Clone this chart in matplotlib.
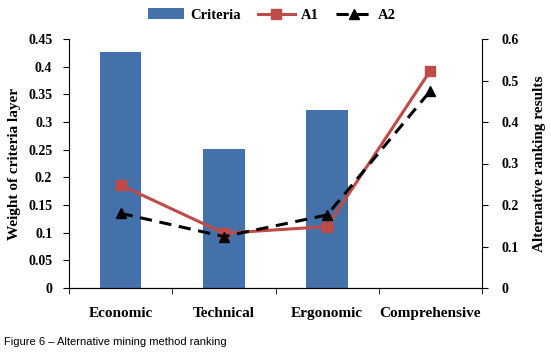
import matplotlib
matplotlib.use("Agg")
import matplotlib.pyplot as plt
import numpy as np

categories = ["Economic", "Technical", "Ergonomic", "Comprehensive"]
criteria = [0.427, 0.251, 0.322]
a1 = [0.248, 0.132, 0.148, 0.524]
a2 = [0.180, 0.124, 0.176, 0.475]
left_ticks = [0, 0.05, 0.1, 0.15, 0.2, 0.25, 0.3, 0.35, 0.4, 0.45]
right_ticks = [0, 0.1, 0.2, 0.3, 0.4, 0.5, 0.6]

serif = "Liberation Serif"
fig = plt.figure(figsize=(5.51, 3.55), dpi=100)
ax = fig.add_axes([69/551, 1-288/355, (482-69)/551, (288-39)/355])
ax2 = ax.twinx()

x = np.arange(len(categories))
bars = ax.bar(x[:len(criteria)], criteria, width=0.4, color="#4571AA", label="Criteria", zorder=1)
l1, = ax2.plot(x, a1, color="#BE4B48", lw=2.2, marker="s", ms=7, label="A1")
l2, = ax2.plot(x, a2, color="black", lw=2.2, ls=(0, (4, 2.5)), marker="^", ms=7, label="A2")

ax.set_xlim(-0.5, 3.5)
ax.set_ylim(0, 0.45)
ax2.set_ylim(0, 0.6)
ax.set_yticks(left_ticks)
ax.set_yticklabels([f"{v:g}" for v in left_ticks])
ax2.set_yticks(right_ticks)
ax2.set_yticklabels([f"{v:g}" for v in right_ticks])
ax.set_xticks(x)
ax.set_xticklabels(categories)
ax.set_xticks(np.arange(-0.5, 4, 1), minor=True)
ax.tick_params(axis="x", which="major", length=0, pad=14)
ax.tick_params(axis="x", which="minor", length=4, direction="out")
ax.tick_params(axis="y", length=4, direction="out", pad=8)
ax2.tick_params(axis="y", length=4, direction="out", pad=10)

for a in (ax, ax2):
    a.spines["top"].set_visible(False)
    for lab in a.get_yticklabels():
        lab.set_fontfamily(serif)
        lab.set_fontweight("bold")
        lab.set_fontsize(10)
    for lab in a.get_xticklabels():
        lab.set_fontfamily(serif)
        lab.set_fontweight("bold")
        lab.set_fontsize(11)
ax.spines["right"].set_visible(False)
ax2.spines["left"].set_visible(False)

ax.set_ylabel("Weight of criteria layer", fontfamily=serif, fontweight="bold", fontsize=11, labelpad=5)
ax2.set_ylabel("Alternative ranking results", fontfamily=serif, fontweight="bold", fontsize=11, labelpad=10)

fig.legend(handles=[bars, l1, l2], labels=["Criteria", "A1", "A2"], loc="center",
           bbox_to_anchor=(272/551, 1-15/355), ncol=3, frameon=False,
           prop={"family": serif, "weight": "bold", "size": 10.5},
           handlelength=2.5, columnspacing=1.2, handletextpad=0.4)

fig.text(4/551, 1-342/355, "Figure 6 \u2013 Alternative mining method ranking",
         fontfamily="Liberation Sans", fontsize=8, va="center", ha="left")

fig.savefig("out.png", dpi=100)
